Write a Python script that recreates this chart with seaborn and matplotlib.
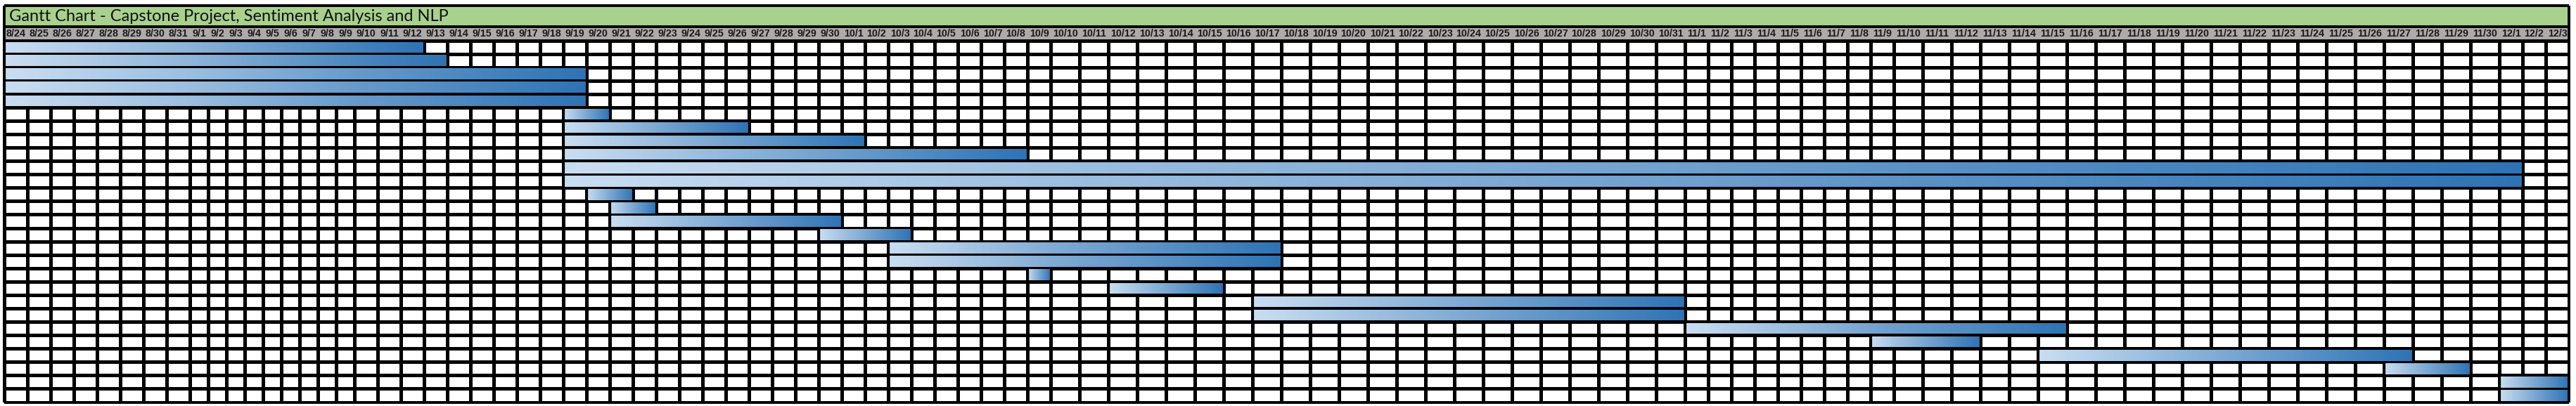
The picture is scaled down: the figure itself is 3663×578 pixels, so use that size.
# =====================================
# Import libraries
# =====================================
import numpy as np
import pandas as pd
import matplotlib
matplotlib.use("Agg")
import matplotlib.pyplot as plt
from matplotlib import font_manager
from matplotlib.colors import ListedColormap
from matplotlib.patches import Rectangle
import seaborn as sns

# =====================================
# Chart data
# =====================================
title = "Gantt Chart - Capstone Project, Sentiment Analysis and NLP"

first_day = "2020-08-24"
last_day = "2020-12-03"

task_start = ["8/24", "8/24", "8/24", "8/24", "8/24",
              "9/19", "9/19", "9/19", "9/19", "9/19", "9/19",
              "9/20", "9/21", "9/21", "9/30", "10/3", "10/3",
              "10/9", "10/12", "10/17", "10/17", "11/1", "11/9",
              "11/15", "11/27", "12/1", "12/1"]
task_end = ["9/12", "9/13", "9/19", "9/19", "9/19",
            "9/20", "9/26", "10/1", "10/8", "12/1", "12/1",
            "9/21", "9/22", "9/30", "10/3", "10/17", "10/17",
            "10/9", "10/15", "10/31", "10/31", "11/15", "11/12",
            "11/27", "11/29", "12/3", "12/3"]

days = pd.date_range(first_day, last_day, freq="D")
day_labels = [f"{d.month}/{d.day}" for d in days]
n_days = len(day_labels)
n_rows = len(task_start)

# =====================================
# Layout (pixels of the 3663x578 picture)
# =====================================
W, H = 3663, 578
X0 = 6                      # left edge of the grid
COL_W = {3: 26, 4: 33, 5: 41}   # excel autofit width by label length
Y_TOP, Y_TITLE, Y_HEAD, Y_BOT = 8, 38, 57.5, 572.5
LW = 2.3                    # grid line width in points

widths = np.array([COL_W[len(s)] for s in day_labels], dtype=float)
edges_px = np.concatenate([[0], np.cumsum(widths)])
idx = np.arange(n_days + 1, dtype=float)
X1 = X0 + edges_px[-1]


def fwd(x):
    return np.interp(x, idx, edges_px)


def inv(p):
    return np.interp(p, edges_px, idx)


# narrow bold font for the date header if there is one
head_font, head_size = "Liberation Sans", 10.3
for name in ["Liberation Sans Narrow", "DejaVu Sans Condensed"]:
    try:
        font_manager.findfont(font_manager.FontProperties(family=name), fallback_to_default=False)
        head_font, head_size = name, 11.5
        break
    except ValueError:
        pass

sns.set_theme(style="white")
plt.rcParams["font.family"] = ["Lato", "DejaVu Sans"]

fig = plt.figure(figsize=(W / 100, H / 100), dpi=100)
fig.patch.set_facecolor("white")

# =====================================
# Grid body: seaborn heatmap with excel-like column widths
# =====================================
ax = fig.add_axes([X0 / W, (H - Y_BOT) / H, (X1 - X0) / W, (Y_BOT - Y_HEAD) / H])
sns.heatmap(np.zeros((n_rows, n_days)), cmap=ListedColormap(["white"]), cbar=False,
            linewidths=LW, linecolor="black", xticklabels=False, yticklabels=False, ax=ax)
ax.set_xscale("function", functions=(fwd, inv))
ax.set_xlim(0, n_days)
ax.set_ylim(n_rows, 0)
ax.set_xticks([])
ax.set_yticks([])

# gradient bars
grad = sns.blend_palette(["#c9ddf1", "#2e73b4"], as_cmap=True)
pos = {lab: i for i, lab in enumerate(day_labels)}
inset = 0.09
for row, (s, e) in enumerate(zip(task_start, task_end)):
    a, b = pos[s], pos[e] + 1
    xs = np.linspace(a, b, 301)
    ys = [row + inset, row + 1 - inset]
    c = np.linspace(0, 1, 300).reshape(1, -1)
    ax.pcolormesh(xs, ys, c, cmap=grad, vmin=0, vmax=1, shading="flat",
                  antialiased=False, linewidth=0, zorder=3)
    ax.vlines([a, b], row, row + 1, color="black", lw=LW, zorder=4)

# =====================================
# Title band, date header and borders
# =====================================
ov = fig.add_axes([0, 0, 1, 1], zorder=5)
ov.set_xlim(0, W)
ov.set_ylim(H, 0)
ov.axis("off")
ov.patch.set_alpha(0)

ov.add_patch(Rectangle((X0, Y_TOP), X1 - X0, Y_TITLE - Y_TOP, facecolor="#a9d18e", edgecolor="none"))
ov.add_patch(Rectangle((X0, Y_TITLE), X1 - X0, Y_HEAD - Y_TITLE, facecolor="#aeaaaa", edgecolor="none"))
ov.text(X0 + 7, (Y_TOP + Y_TITLE) / 2 + 1, title, fontsize=17, color="#111111",
        ha="left", va="center")

centers = X0 + (edges_px[:-1] + edges_px[1:]) / 2
for cx, lab in zip(centers, day_labels):
    ov.text(cx, (Y_TITLE + Y_HEAD) / 2 + 0.5, lab, fontsize=head_size, fontweight="bold",
            family=[head_font, "DejaVu Sans"], color="#1a1a1a",
            ha="center", va="center")

ov.hlines([Y_TOP, Y_TITLE, Y_HEAD, Y_BOT], X0, X1, color="black", lw=2.8)
ov.vlines([X0, X1], Y_TOP, Y_BOT, color="black", lw=2.8)

plt.savefig("out.png", dpi=100)
